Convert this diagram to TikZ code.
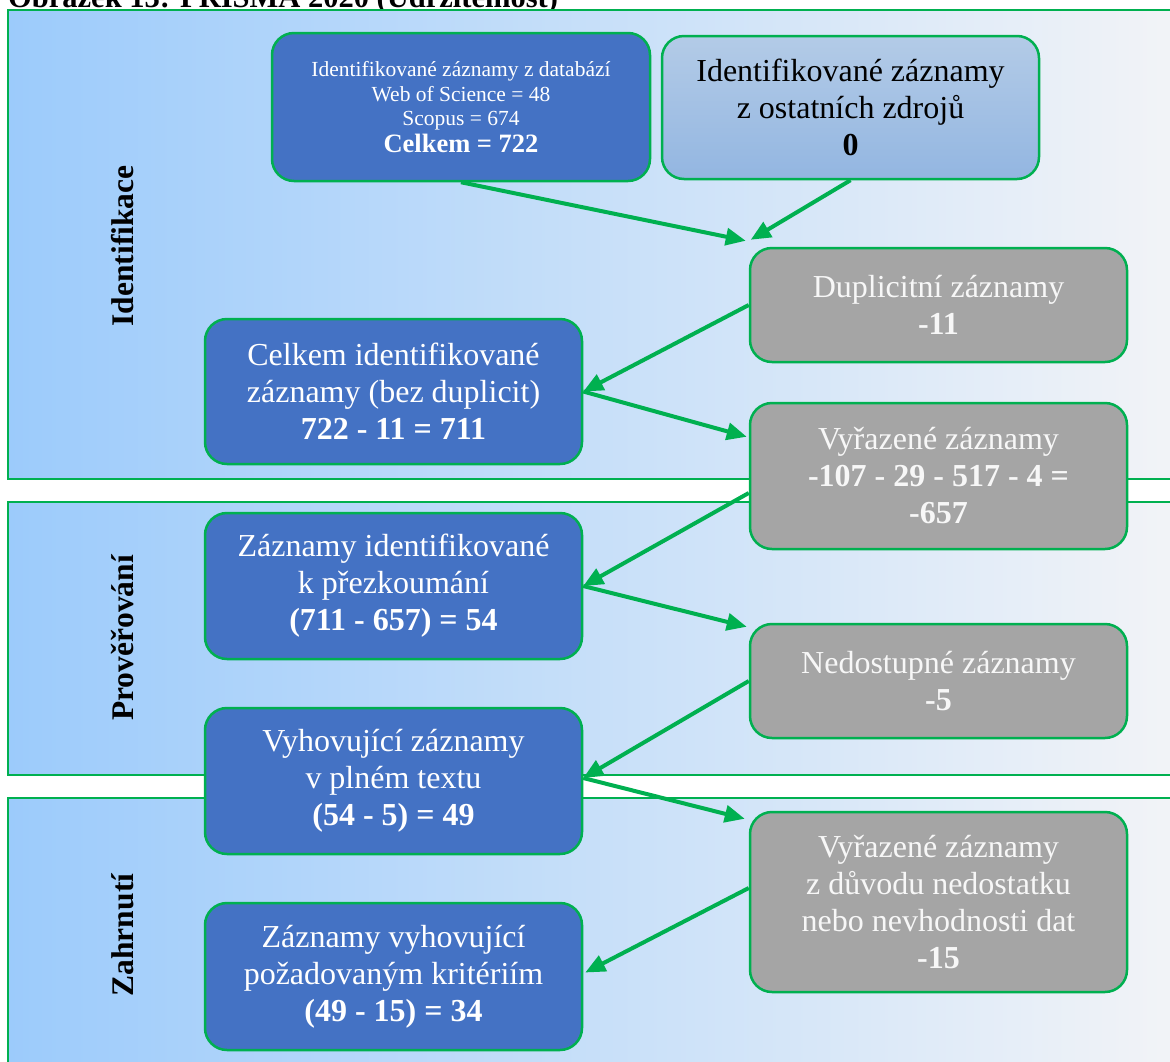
\documentclass[tikz,border=0pt]{standalone}
\usepackage{fontspec}
\setmainfont{Liberation Serif}
\usetikzlibrary{arrows.meta,calc}
\definecolor{frame}{HTML}{00B050}
\definecolor{boxblue}{HTML}{4472C4}
\definecolor{boxgray}{HTML}{A5A5A5}
\definecolor{panelL}{HTML}{9CCBFB}
\definecolor{panelR}{HTML}{F3F4F7}
\definecolor{srcTop}{HTML}{B3CBE7}
\definecolor{srcBot}{HTML}{93B6E1}
\tikzset{
  panel/.style={draw=frame, line width=2.5pt, left color=panelL, right color=panelR},
  card/.style={draw=frame, line width=2.5pt, rounded corners=22pt, inner sep=0pt,
    align=center, minimum width=377pt, text=white,
    font=\fontsize{32}{37}\selectfont},
  bluecard/.style={card, fill=boxblue},
  graycard/.style={card, fill=boxgray, text=white!97!black},
  flow/.style={draw=frame, line width=4pt, -{Triangle[length=20pt,width=17pt]}},
  stage/.style={rotate=90, font=\fontsize{31.5}{34}\selectfont\bfseries, text=black}
}
\begin{document}
\begin{tikzpicture}[x=1pt,y=-1pt]
\useasboundingbox (0,0) rectangle (1170,1061);
\clip (0,0) rectangle (1170,1061);

% title line
\node[anchor=base west, inner sep=0pt, font=\fontsize{30.5}{34}\selectfont\bfseries] (title)
  at (8,7) {Obrázek 13: PRISMA 2020 (Udržitelnost)};

% stage panels
\path[panel] (8,10) rectangle (1190,479);
\path[panel] (8,502) rectangle (1190,775);
\path[panel] (8,798) rectangle (1190,1080);

\node[stage] (s1) at (123,246) {Identifikace};
\node[stage] (s2) at (123,638) {Prověřování};
\node[stage] (s3) at (123,935) {Zahrnutí};

% record boxes
\node[bluecard, minimum width=378pt, minimum height=148pt,
      font=\fontsize{21.5}{24.5}\selectfont] (db) at (461,107)
  {Identifikované záznamy z databází\\
   Web of Science = 48\\
   Scopus = 674\\[2pt]
   \fontsize{26.5}{24.5}\selectfont\bfseries Celkem = 722};
\node[card, top color=srcTop, bottom color=srcBot, text=black, minimum height=143pt] (other) at (850.5,107.5)
  {Identifikované záznamy\\z ostatních zdrojů\\\textbf{0}};
\node[graycard, minimum height=114pt] (dup) at (938.5,305)
  {Duplicitní záznamy\\\textbf{-11}};
\node[bluecard, minimum height=145pt] (celk) at (393.5,391.5)
  {Celkem identifikované\\záznamy (bez duplicit)\\\textbf{722 - 11 = 711}};
\node[graycard, minimum height=146pt] (vyr) at (938.5,476)
  {Vyřazené záznamy\\\textbf{-107 - 29 - 517 - 4 =}\\\textbf{-657}};
\node[bluecard, minimum height=146pt] (zi) at (393.5,586)
  {Záznamy identifikované\\k přezkoumání\\\textbf{(711 - 657) = 54}};
\node[graycard, minimum height=114pt] (ned) at (938.5,681)
  {Nedostupné záznamy\\\textbf{-5}};
\node[bluecard, minimum height=146pt] (vyh) at (393.5,781)
  {Vyhovující záznamy\\v plném textu\\\textbf{(54 - 5) = 49}};
\node[graycard, minimum height=180pt] (vyr2) at (938.5,902)
  {Vyřazené záznamy\\z důvodu nedostatku\\nebo nevhodnosti dat\\\textbf{-15}};
\node[bluecard, minimum height=147pt] (fin) at (393.5,976.5)
  {Záznamy vyhovující\\požadovaným kritériím\\\textbf{(49 - 15) = 34}};

% connectors
\coordinate (m1) at ($(dup.north west)+(-3,-6)$);
\coordinate (m2) at ($(dup.north west)+(2,-7)$);
\draw[flow] (db.south) -- (m1);
\draw[flow] (other.south) -- (m2);
\draw[flow] (dup.west) -- (celk.east);
\draw[flow] (celk.east) -- ($(vyr.north west)+(-2,35)$);
\draw[flow] ($(vyr.west)+(0,17)$) -- (zi.east);
\draw[flow] (zi.east) -- ($(ned.north west)+(-2,4)$);
\draw[flow] (ned.west) -- ($(vyh.east)+(0,-3)$);
\draw[flow] ($(vyh.east)+(0,-3)$) -- ($(vyr2.north west)+(-4,8)$);
\draw[flow] ($(vyr2.west)+(0,-14)$) -- ($(fin.east)+(2,-4)$);
\end{tikzpicture}
\end{document}
